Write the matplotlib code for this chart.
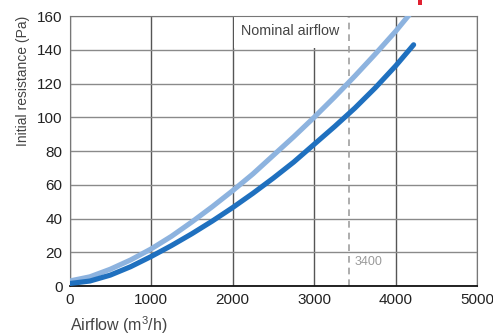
import numpy as np
import matplotlib.pyplot as plt
from matplotlib.patches import Rectangle

plt.rcParams['font.family'] = ['Liberation Sans', 'DejaVu Sans']
plt.rcParams['mathtext.fontset'] = 'custom'
plt.rcParams['mathtext.rm'] = 'Liberation Sans'

# 风量 / 阻力 读图数据
x_light = [0, 250, 500, 750, 1000, 1250, 1500, 1750, 2000, 2250, 2500,
           2750, 3000, 3250, 3500, 3750, 4000, 4170]
y_light = [3, 5.5, 10, 15.5, 22, 29.5, 38, 47, 56.5, 66.5, 77.5,
           88.5, 100, 112, 124.5, 137.5, 151, 161]
x_dark = [0, 250, 500, 750, 1000, 1250, 1500, 1750, 2000, 2250, 2500,
          2750, 3000, 3250, 3500, 3750, 4000, 4220]
y_dark = [1.5, 3, 6.5, 11.5, 17.5, 24, 31, 38.5, 46.5, 55, 64,
          73.5, 84, 94.5, 105.5, 117.5, 130.5, 143]

nominal_x = 3430
nominal_label = '3400'
x_ticks = [0, 1000, 2000, 3000, 4000, 5000]
y_ticks = [0, 20, 40, 60, 80, 100, 120, 140, 160]

fig = plt.figure(figsize=(4.93, 3.35), dpi=100)
ax = fig.add_axes([0.141, 0.146, 0.827, 0.806])

# 网格
ax.set_axisbelow(True)
ax.xaxis.grid(True, color='#555555', linewidth=1.0)
ax.yaxis.grid(True, color='#8a8a8a', linewidth=1.0)

# 白色标签框，盖住网格
ax.add_patch(Rectangle((2015, 141), nominal_x - 2015 - 30, 18.3,
                       facecolor='white', edgecolor='none', zorder=1))
ax.text(2700, 151, 'Nominal airflow', fontsize=10.3, color='#444444',
        ha='center', va='center', zorder=2)

ax.axvline(nominal_x, color='#a0a0a0', linestyle=(0, (4, 3)), linewidth=1.2, zorder=2)
ax.text(nominal_x + 60, 14, nominal_label, fontsize=9, color='#9a9a9a',
        ha='left', va='center', zorder=2)

ax.plot(x_light, y_light, color='#8db3df', linewidth=3.7, solid_capstyle='round',
        solid_joinstyle='round', zorder=3)
ax.plot(x_dark, y_dark, color='#1f70bf', linewidth=3.7, solid_capstyle='round',
        solid_joinstyle='round', zorder=4)

ax.set_xlim(0, 5000)
ax.set_ylim(0, 160)
ax.set_xticks(x_ticks)
ax.set_yticks(y_ticks)
ax.tick_params(length=0, labelsize=11, colors='#222222', pad=5)

for s in ['top', 'right', 'left']:
    ax.spines[s].set_color('#777777')
ax.spines['bottom'].set_color('#111111')
ax.spines['bottom'].set_linewidth(1.3)

ax.set_xlabel('Airflow (m$^3$/h)', fontsize=11.5, color='#444444', loc='left', labelpad=5)
ax.set_ylabel('Initial resistance (Pa)', fontsize=10, color='#444444', loc='top', labelpad=5)

# 右上角红色小标记
fig.patches.append(Rectangle((418 / 493, 1 - 5 / 335), 4 / 493, 5 / 335,
                             transform=fig.transFigure, facecolor='#e02030',
                             edgecolor='none'))

fig.savefig('out.png', dpi=100)
